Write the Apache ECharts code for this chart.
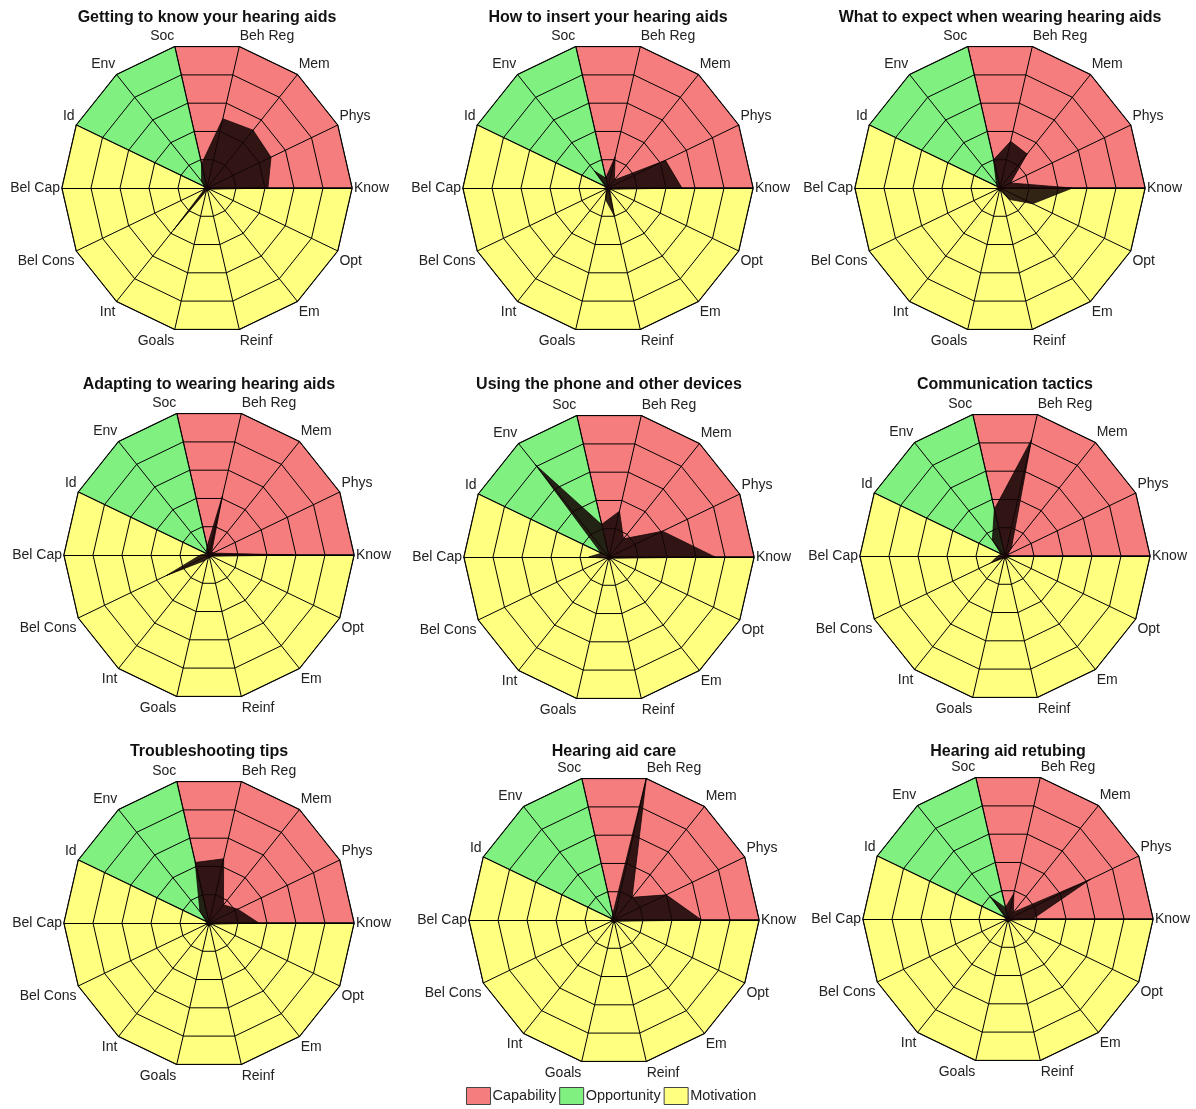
<!DOCTYPE html>
<html><head><meta charset="utf-8">
<script src="https://cdn.jsdelivr.net/npm/echarts@6/dist/echarts.min.js"></script>
<style>html,body{margin:0;padding:0;background:#fff}#c{width:1196px;height:1109px}</style>
</head><body><div id="c"></div>
<script>
// ---- data ----
const indicators = ['Know','Phys','Mem','Beh Reg','Soc','Env','Id','Bel Cap','Bel Cons','Int','Goals','Reinf','Em','Opt'];
const scaleMax = 5;
const capabilityAxes  = ['Know','Phys','Mem','Beh Reg','Soc'];
const opportunityAxes = ['Soc','Env','Id'];
const motivationAxes  = ['Id','Bel Cap','Bel Cons','Int','Goals','Reinf','Em','Opt','Know'];
const domainNames = ['Capability','Opportunity','Motivation'];

const titles = [
  'Getting to know your hearing aids',
  'How to insert your hearing aids',
  'What to expect when wearing hearing aids',
  'Adapting to wearing hearing aids',
  'Using the phone and other devices',
  'Communication tactics',
  'Troubleshooting tips',
  'Hearing aid care',
  'Hearing aid retubing'
];
//                      Know Phys Mem  BehR Soc  Env  Id   BCap BCon Int  Goal Rein Em   Opt
const gettingToKnow   = [2.1, 2.45,2.55,2.45,0.85,0.3, 0.1, 0.1, 0.1, 1.85,0.1, 0.1, 0.1, 0.1];
const howToInsert     = [2.55,2.2, 0.35,1.1, 0.35,0.75,0.1, 0.1, 0.1, 0.1, 0.4, 1.0, 0.1, 0.1];
const whatToExpect    = [2.5, 0.4, 1.5, 1.65,1.0, 0.2, 0.1, 0.1, 0.1, 0.1, 0.1, 0.1, 0.5, 1.25];
const adapting        = [2.9, 0.15,0.15,2.1, 0.3, 0.15,0.1, 0.3, 1.62,0.25,0.1, 0.1, 0.1, 0.1];
const usingPhone      = [3.66,2.05,0.8, 1.62,1.15,4.07,0.3, 0.7, 0.1, 0.1, 0.1, 0.1, 0.1, 0.1];
const communication   = [0.2, 0.1, 0.35,4.12,1.65,0.7, 0.15,0.25,0.55,0.1, 0.1, 0.1, 0.1, 0.1];
const troubleshooting = [1.72,1.1, 0.8, 2.27,2.14,0.5, 0.1, 0.1, 0.1, 0.1, 0.1, 0.1, 0.1, 0.1];
const care            = [3.02,2.0, 1.0, 5.0, 0.2, 0.1, 0.1, 0.1, 0.1, 0.1, 0.1, 0.1, 0.1, 0.1];
const retubing        = [0.85,3.16,0.3, 0.9, 0.4, 0.97,0.1, 0.1, 0.1, 0.1, 0.1, 0.1, 0.1, 0.1];
const chartValues = [gettingToKnow, howToInsert, whatToExpect, adapting, usingPhone, communication, troubleshooting, care, retubing];

// ---- layout / style ----
const centers = [[207,188],[608,188],[1000,188],[209,555],[609,557],[1005,556],[209,923],[614,920],[1008,919]];
const titleY = [18,18,18,385,385,385,752,752,752];
const radius = 145;
const domainColors = ['#F67D7D','#80F080','#FFFF80'];
const domainAxes = [capabilityAxes, opportunityAxes, motivationAxes];
const FONT = '"Liberation Sans", Arial, sans-serif';
const upperLabels = new Set(['Phys','Mem','Beh Reg','Soc','Env','Id']);
const lowerLabels = new Set(['Bel Cons','Int','Goals','Reinf','Em','Opt']);

const radars = [], series = [], graphics = [];
chartValues.forEach((vals, i) => {
  radars.push({
    center: centers[i], radius: radius, startAngle: 0, splitNumber: 5, shape: 'polygon', z: 2,
    indicator: indicators.map(n => ({ name: n, min: 0, max: scaleMax })),
    axisName: {
      color: '#222', fontSize: 14, fontFamily: FONT,
      formatter: n => (upperLabels.has(n) ? '{up|' : lowerLabels.has(n) ? '{dn|' : '{md|') + n + '}',
      rich: {
        up: { fontSize: 14, fontFamily: FONT, color: '#222', padding: [0, 0, 17, 0] },
        dn: { fontSize: 14, fontFamily: FONT, color: '#222', padding: [19, 0, 0, 0] },
        md: { fontSize: 14, fontFamily: FONT, color: '#222' }
      }
    },
    nameGap: 2,
    axisLine: { lineStyle: { color: '#000', width: 1 } },
    splitLine: { lineStyle: { color: '#000', width: 1 } },
    splitArea: { show: false },
    axisTick: { show: false }, axisLabel: { show: false }
  });
  domainNames.forEach((dn, d) => {
    const set = new Set(domainAxes[d]);
    series.push({
      type: 'radar', name: dn, radarIndex: i, z: 1, silent: true, symbol: 'none',
      itemStyle: { color: domainColors[d] },
      lineStyle: { color: '#000', width: 1.4 },
      areaStyle: { color: domainColors[d], opacity: 1 },
      data: [{ value: indicators.map(n => set.has(n) ? scaleMax : 0) }]
    });
  });
  series.push({
    type: 'radar', name: titles[i], radarIndex: i, z: 3, silent: true, symbol: 'none',
    itemStyle: { color: '#1a0808' },
    lineStyle: { color: 'rgba(0,0,0,0.9)', width: 0.8 },
    areaStyle: { color: 'rgba(22,6,6,0.88)', opacity: 1 },
    data: [{ value: vals }]
  });
  graphics.push({
    type: 'text', x: centers[i][0], y: titleY[i],
    style: { text: titles[i], align: 'center', verticalAlign: 'middle', fill: '#111',
             font: 'bold 16px ' + FONT }
  });
});

const chart = echarts.init(document.getElementById('c'), null, { renderer: 'canvas' });
chart.setOption({
  backgroundColor: '#fff',
  animation: false,
  radar: radars,
  series: series,
  graphic: graphics,
  legend: {
    data: domainNames, left: 466, top: 1087, icon: 'rect', selectedMode: false, padding: 0,
    itemWidth: 24, itemHeight: 17, itemGap: 3,
    itemStyle: { borderColor: '#444', borderWidth: 1 },
    textStyle: { fontSize: 14.5, color: '#222', fontFamily: FONT, padding: [0, 0, 0, -3] }
  }
});
</script></body></html>
